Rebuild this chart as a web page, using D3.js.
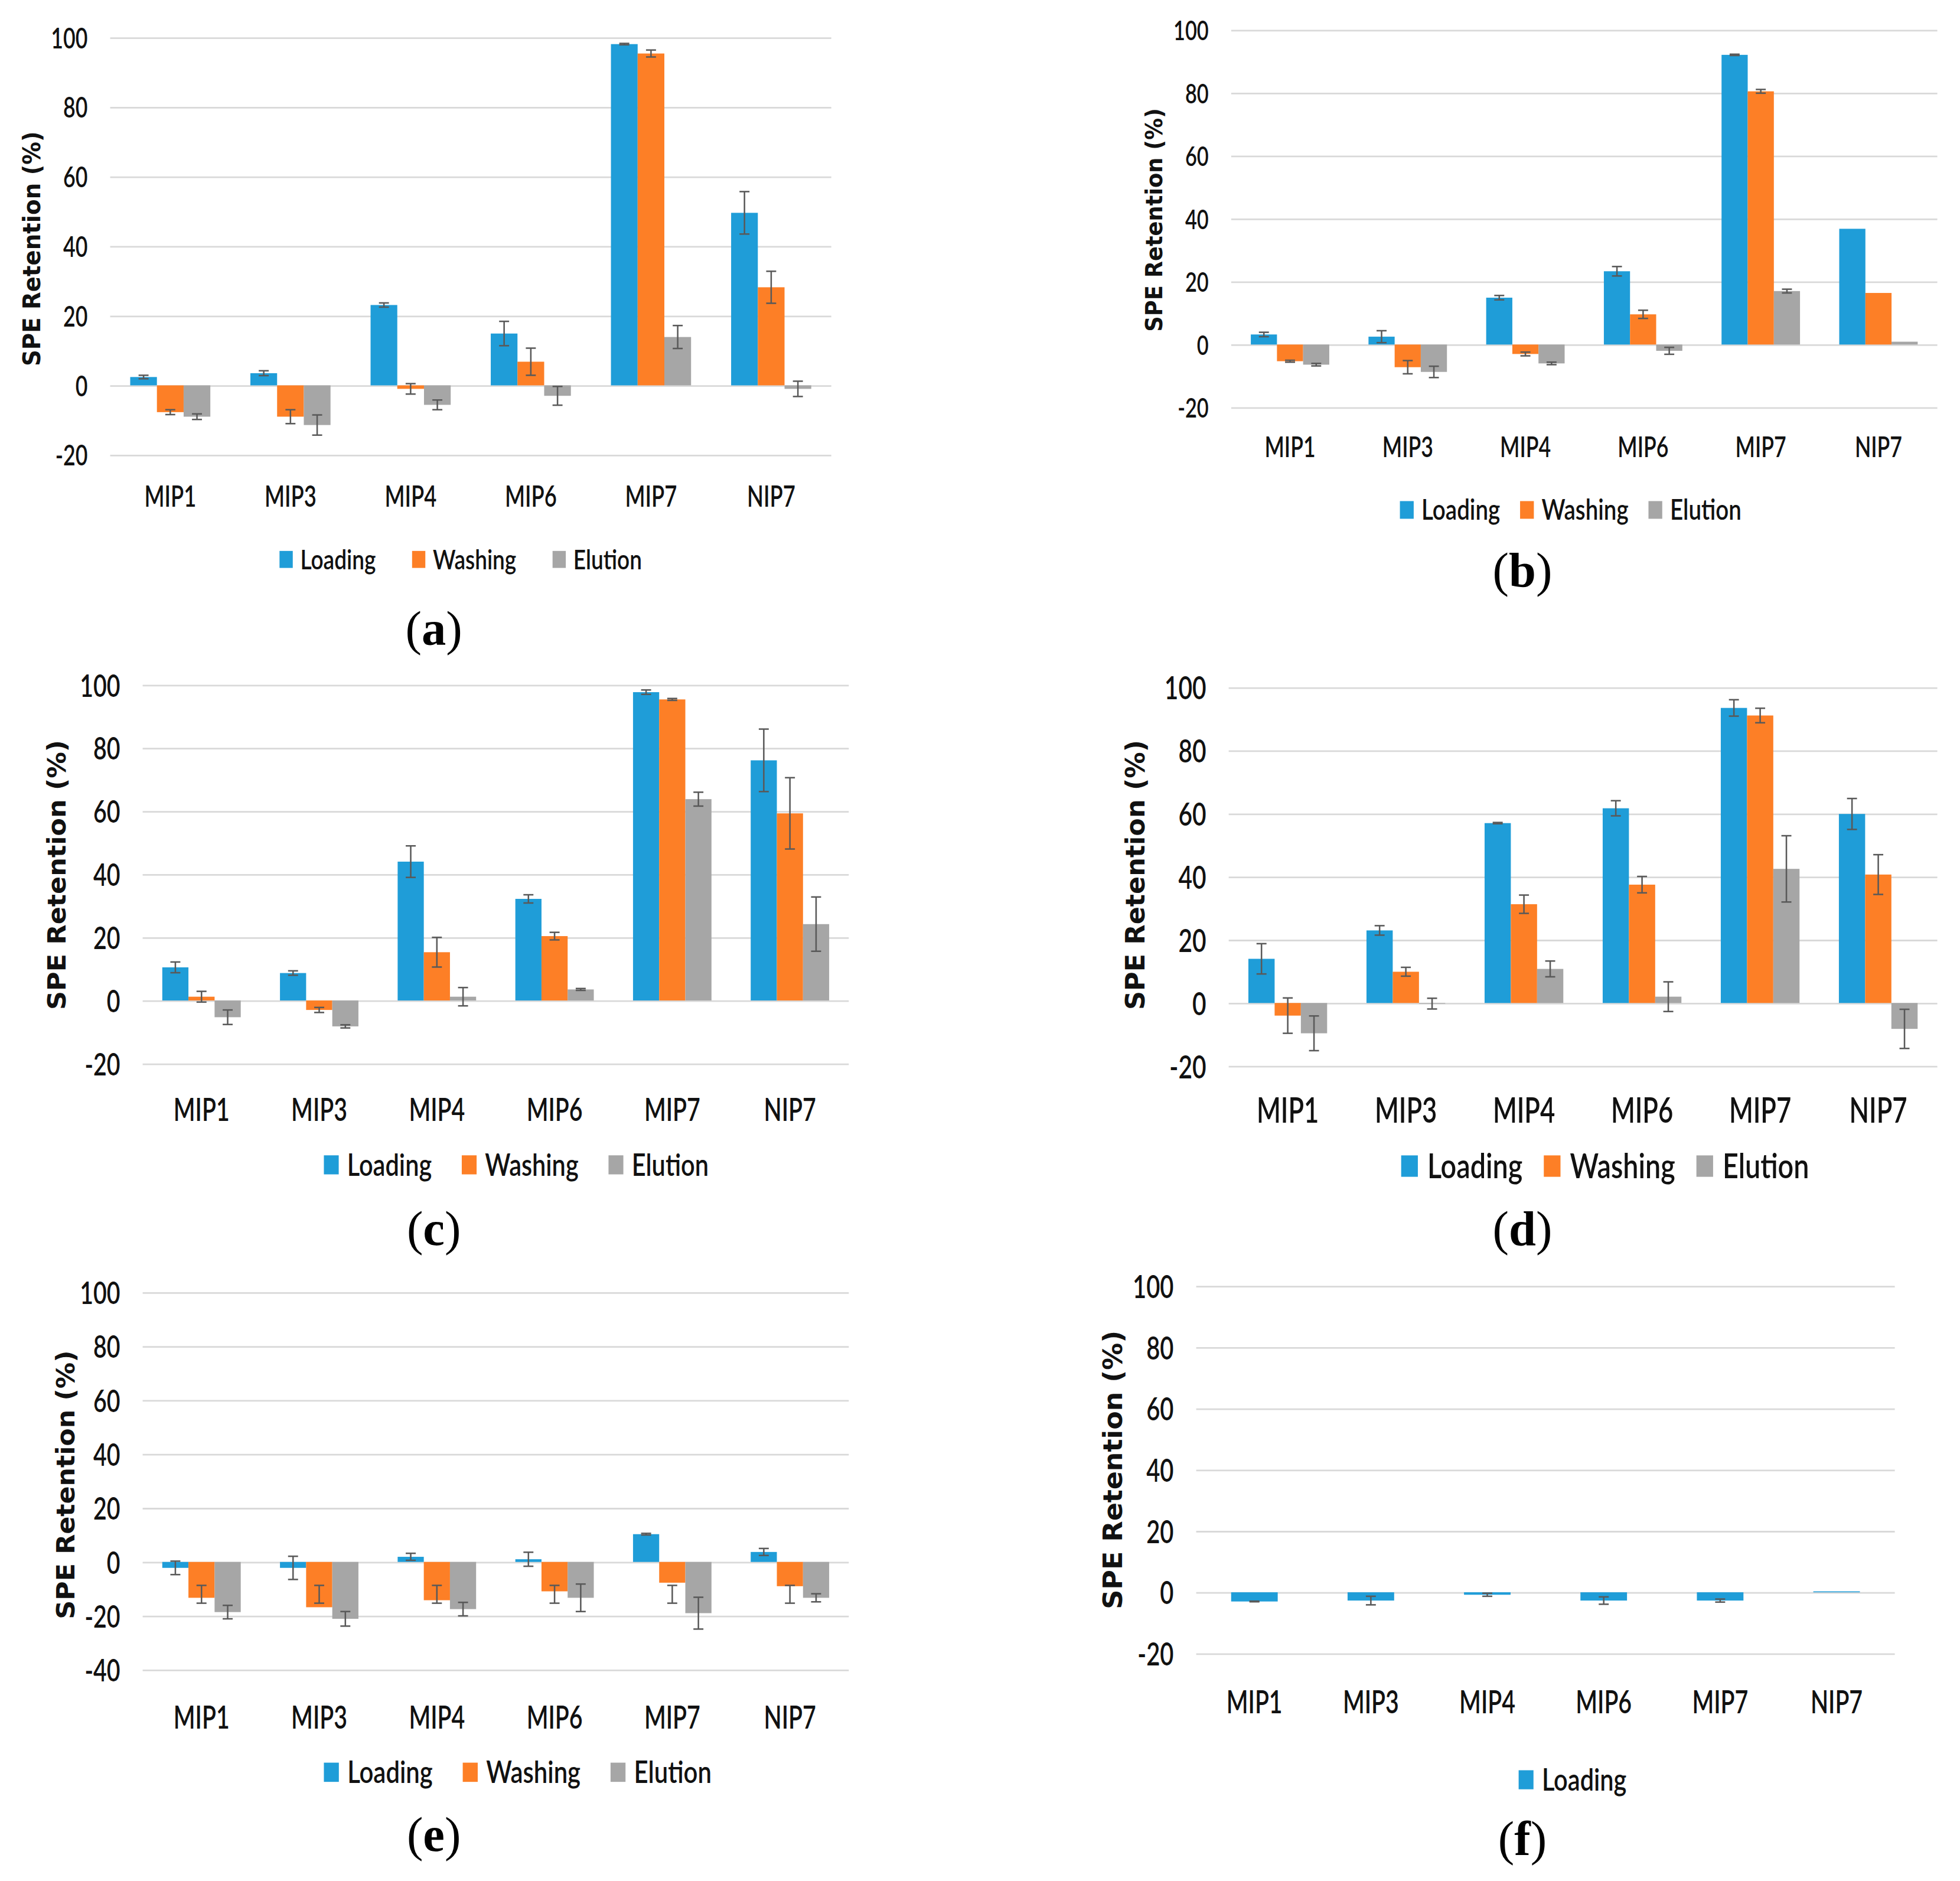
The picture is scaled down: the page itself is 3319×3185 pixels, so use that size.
<!DOCTYPE html>
<html><head><meta charset="utf-8">
<script src="https://cdn.jsdelivr.net/npm/d3@7"></script>
<style>html,body{margin:0;padding:0;background:#fff;} svg{display:block;background:#fff;}</style>
</head><body>
<svg id="chart" width="3319" height="3185" viewBox="0 0 1568 1505"></svg>
<script>
// ---------- data ----------
const categories = ["MIP1", "MIP3", "MIP4", "MIP6", "MIP7", "NIP7"];
const seriesNames = ["Loading", "Washing", "Elution"];
const seriesColors = ["#1F9DD8", "#FD7F26", "#A6A6A6"];
const ticksStd = [-20, 0, 20, 40, 60, 80, 100];
const ticksE = [-40, -20, 0, 20, 40, 60, 80, 100];
const axisTitle = "SPE Retention (%)";
const panelLabels = ["a", "b", "c", "d", "e", "f"];

// (a)
const aLoading = [2.4, 3.5, 23.1, 14.9, 98.1, 49.6];
const aLoadingErr = [0.5, 0.7, 0.6, 3.5, 0.2, 6.1];
const aWashing = [-7.7, -9.0, -1.0, 6.8, 95.4, 28.2];
const aWashingErr = [0.7, 2.0, 1.5, 3.9, 1.0, 4.6];
const aElution = [-9.0, -11.4, -5.6, -3.0, 13.9, -1.0];
const aElutionErr = [0.8, 2.9, 1.4, 2.7, 3.3, 2.2];
// (b)
const bLoading = [3.2, 2.5, 14.9, 23.3, 92.1, 36.8];
const bLoadingErr = [0.7, 1.9, 0.7, 1.5, 0.2, 0];
const bWashing = [-5.3, -7.2, -3.0, 9.6, 80.5, 16.4];
const bWashingErr = [0.3, 2.1, 0.6, 1.3, 0.6, 0];
const bElution = [-6.4, -8.7, -6.0, -2.0, 17.0, 0.9];
const bElutionErr = [0.4, 1.8, 0.4, 1.1, 0.6, 0];
// (c)
const cLoading = [10.5, 8.7, 44.0, 32.2, 97.7, 76.1];
const cLoadingErr = [1.7, 0.7, 5.0, 1.3, 0.7, 9.9];
const cWashing = [1.2, -3.0, 15.3, 20.4, 95.4, 59.3];
const cWashingErr = [1.7, 0.8, 4.7, 1.2, 0.3, 11.3];
const cElution = [-5.3, -8.2, 1.2, 3.5, 63.8, 24.2];
const cElutionErr = [2.3, 0.5, 2.9, 0.3, 2.2, 8.6];
// (d)
const dLoading = [14.0, 23.0, 57.0, 61.7, 93.5, 59.9];
const dLoadingErr = [4.8, 1.5, 0.2, 2.4, 2.6, 4.9];
const dWashing = [-4.0, 9.9, 31.3, 37.5, 91.1, 40.7];
const dWashingErr = [5.6, 1.4, 2.9, 2.6, 2.3, 6.3];
const dElution = [-9.6, -0.2, 10.8, 2.0, 42.5, -8.2];
const dElutionErr = [5.5, 1.7, 2.5, 4.7, 10.5, 6.2];
// (e)
const eLoading = [-2.2, -2.2, 1.9, 1.0, 10.3, 3.7];
const eLoadingErr = [2.5, 4.3, 1.3, 2.6, 0.3, 1.3];
const eWashing = [-13.3, -16.8, -14.2, -10.9, -7.7, -9.0];
const eWashingErr = [3.3, 3.3, 3.3, 3.3, 3.3, 3.3];
const eWashingErrCentre = [-12.0, -12.0, -12.0, -12.0, -12.0, -12.0];
const eElution = [-18.6, -21.1, -17.5, -13.3, -19.0, -13.3];
const eElutionErr = [2.5, 2.7, 2.5, 5.1, 5.9, 1.5];
// (f)
const fLoading = [-3.0, -2.7, -0.8, -2.7, -2.7, 0.3];
const fLoadingErr = [0.1, 1.4, 0.5, 1.2, 0.5, 0];

// ---------- layout ----------
const panels = [
  {values: [aLoading, aWashing, aElution], errors: [aLoadingErr, aWashingErr, aElutionErr], centres: [null, null, null], ticks: ticksStd,
   x0: 88, x1: 665, yTop: 30, yBot: 364, tickFs: 1.02, catFs: 1.0, legFs: 1.0, legGap: 29, titleFs: 1.0,
   titleX: 25, titleY: 199, titleLen: 188, catY: 405.5, legY: 447.6, legX: 223.5, capX: 347, capY: 516},
  {values: [bLoading, bWashing, bElution], errors: [bLoadingErr, bWashingErr, bElutionErr], centres: [null, null, null], ticks: ticksStd,
   x0: 985, x1: 1550, yTop: 24, yBot: 326, tickFs: 0.98, catFs: 0.98, legFs: 1.04, legGap: 16, titleFs: 0.97,
   titleX: 923, titleY: 176, titleLen: 179, catY: 365.5, legY: 408, legX: 1120, capX: 1218, capY: 469},
  {values: [cLoading, cWashing, cElution], errors: [cLoadingErr, cWashingErr, cElutionErr], centres: [null, null, null], ticks: ticksStd,
   x0: 114, x1: 679, yTop: 548, yBot: 851, tickFs: 1.12, catFs: 1.08, legFs: 1.12, legGap: 24, titleFs: 1.08,
   titleX: 45, titleY: 700, titleLen: 216, catY: 897, legY: 932, legX: 259, capX: 347, capY: 996},
  {values: [dLoading, dWashing, dElution], errors: [dLoadingErr, dWashingErr, dElutionErr], centres: [null, null, null], ticks: ticksStd,
   x0: 983, x1: 1550, yTop: 550, yBot: 853, tickFs: 1.16, catFs: 1.2, legFs: 1.26, legGap: 17, titleFs: 1.1,
   titleX: 908, titleY: 700, titleLen: 216, catY: 898.5, legY: 933, legX: 1121, capX: 1218, capY: 996},
  {values: [eLoading, eWashing, eElution], errors: [eLoadingErr, eWashingErr, eElutionErr], centres: [null, eWashingErrCentre, null], ticks: ticksE,
   x0: 114, x1: 679, yTop: 1034, yBot: 1336, tickFs: 1.12, catFs: 1.08, legFs: 1.13, legGap: 24, titleFs: 1.08,
   titleX: 52, titleY: 1188, titleLen: 215, catY: 1383, legY: 1418, legX: 259, capX: 347, capY: 1481},
  {values: [fLoading], errors: [fLoadingErr], centres: [null], ticks: ticksStd,
   x0: 957, x1: 1516, yTop: 1029, yBot: 1323, tickFs: 1.14, catFs: 1.08, legFs: 1.12, legGap: 24, titleFs: 1.1,
   titleX: 890, titleY: 1176, titleLen: 223, catY: 1371, legY: 1424, legX: 1215, capX: 1218, capY: 1484}
];

const labelFont = "Lato, 'Open Sans', 'DejaVu Sans', sans-serif";
const svg = d3.select("#chart");
svg.append("rect").attr("width", 1568).attr("height", 1505).attr("fill", "#fff");

// horizontal compression so the humanist sans looks like the narrow Calibri of the original
function measure(str, size) {
  const t = svg.append("text").text(str).attr("font-family", labelFont).attr("font-size", size).attr("font-weight", 600);
  const w = t.node().getComputedTextLength();
  t.remove();
  return w;
}
const TICK_SIZE = 22, CAT_SIZE = 23.5, LEG_SIZE = 21.5;
const tickSX = 28.8 / measure("100", TICK_SIZE);
const catSX = 41.5 / measure("MIP1", CAT_SIZE);
const legSX = 60.5 / measure("Loading", LEG_SIZE);

const GAP = 1.5;

panels.forEach((p, pi) => {
  const g = svg.append("g").attr("class", "panel-" + panelLabels[pi]);
  const x = d3.scaleBand().domain(categories).range([p.x0, p.x1]).padding(0);
  const y = d3.scaleLinear().domain([p.ticks[0], p.ticks[p.ticks.length - 1]]).range([p.yBot, p.yTop]);

  // gridlines
  const grid = g.append("g").attr("transform", `translate(${p.x0},0)`)
    .call(d3.axisLeft(y).tickValues(p.ticks).tickSize(-(p.x1 - p.x0)).tickFormat(""));
  grid.select(".domain").remove();
  grid.selectAll("line").attr("stroke", "#D9D9D9").attr("stroke-width", 1.3);

  // y tick labels
  const ya = g.append("g").attr("transform", `translate(${p.x0},0)`)
    .call(d3.axisLeft(y).tickValues(p.ticks).tickSize(0).tickPadding(18).tickFormat(d => String(d)));
  ya.select(".domain").remove();
  ya.selectAll("text").attr("font-family", labelFont).attr("font-size", TICK_SIZE * p.tickFs).attr("font-weight", 600)
    .attr("fill", "#111").attr("dy", "0.36em").attr("x", 0)
    .attr("transform", `translate(-18,0) scale(${tickSX},1)`);

  // category labels
  const xa = g.append("g").attr("transform", `translate(0,${p.catY})`)
    .call(d3.axisBottom(x).tickSize(0).tickPadding(0));
  xa.select(".domain").remove();
  xa.selectAll("text").attr("font-family", labelFont).attr("font-size", CAT_SIZE * p.catFs).attr("font-weight", 600)
    .attr("fill", "#111").attr("dy", 0).attr("y", 0)
    .attr("transform", `scale(${catSX},1)`);

  // bars
  const n = p.values.length;
  const band = x.bandwidth();
  const groupW = band * n / (n + GAP);
  const barW = groupW / n;
  p.values.forEach((vals, si) => {
    const rows = categories.map((c, ci) => ({c, v: vals[ci], e: p.errors[si][ci],
      m: p.centres[si] ? p.centres[si][ci] : vals[ci]}));
    const bx = d => x(d.c) + (band - groupW) / 2 + si * barW;
    g.append("g").selectAll("rect").data(rows).join("rect")
      .attr("x", bx).attr("width", barW)
      .attr("y", d => y(Math.max(0, d.v)))
      .attr("height", d => Math.abs(y(d.v) - y(0)))
      .attr("fill", seriesColors[si]);
    const eb = g.append("g").attr("stroke", "#595959").attr("stroke-width", 1.2)
      .selectAll("g").data(rows.filter(d => d.e > 0)).join("g");
    const cx = d => bx(d) + barW / 2;
    const capW = 8;
    eb.append("line").attr("x1", cx).attr("x2", cx)
      .attr("y1", d => y(d.m - d.e)).attr("y2", d => y(d.m + d.e));
    eb.append("line").attr("x1", d => cx(d) - capW / 2).attr("x2", d => cx(d) + capW / 2)
      .attr("y1", d => y(d.m - d.e)).attr("y2", d => y(d.m - d.e));
    eb.append("line").attr("x1", d => cx(d) - capW / 2).attr("x2", d => cx(d) + capW / 2)
      .attr("y1", d => y(d.m + d.e)).attr("y2", d => y(d.m + d.e));
  });

  // axis title
  g.append("text").text(axisTitle)
    .attr("transform", `translate(${p.titleX},${p.titleY}) rotate(-90)`)
    .attr("text-anchor", "middle").attr("dy", "0.36em")
    .attr("font-family", "'DejaVu Sans', Verdana, sans-serif").attr("font-weight", "bold")
    .attr("font-size", 19 * p.titleFs).attr("fill", "#111")
    .attr("textLength", p.titleLen).attr("lengthAdjust", "spacingAndGlyphs");

  // legend
  let lx = p.legX;
  const sqW = 10.6 * p.legFs, sqH = 13.6 * p.legFs;
  p.values.forEach((vals, si) => {
    g.append("rect").attr("x", lx).attr("y", p.legY - sqH / 2).attr("width", sqW).attr("height", sqH)
      .attr("fill", seriesColors[si]);
    const tx = lx + sqW + 6 * p.legFs;
    const t = g.append("text").text(seriesNames[si])
      .attr("transform", `translate(${tx},${p.legY}) scale(${legSX},1)`).attr("dy", "0.36em")
      .attr("font-family", labelFont).attr("font-size", LEG_SIZE * p.legFs).attr("font-weight", 600).attr("fill", "#111");
    lx = tx + t.node().getComputedTextLength() * legSX + p.legGap;
  });

  // caption
  const cap = g.append("text").attr("x", p.capX).attr("y", p.capY).attr("text-anchor", "middle")
    .attr("font-family", "'Liberation Serif', 'Times New Roman', serif").attr("font-size", 39).attr("fill", "#000");
  cap.append("tspan").text("(");
  cap.append("tspan").attr("font-weight", "bold").text(panelLabels[pi]);
  cap.append("tspan").text(")");
});
</script>
</body></html>
